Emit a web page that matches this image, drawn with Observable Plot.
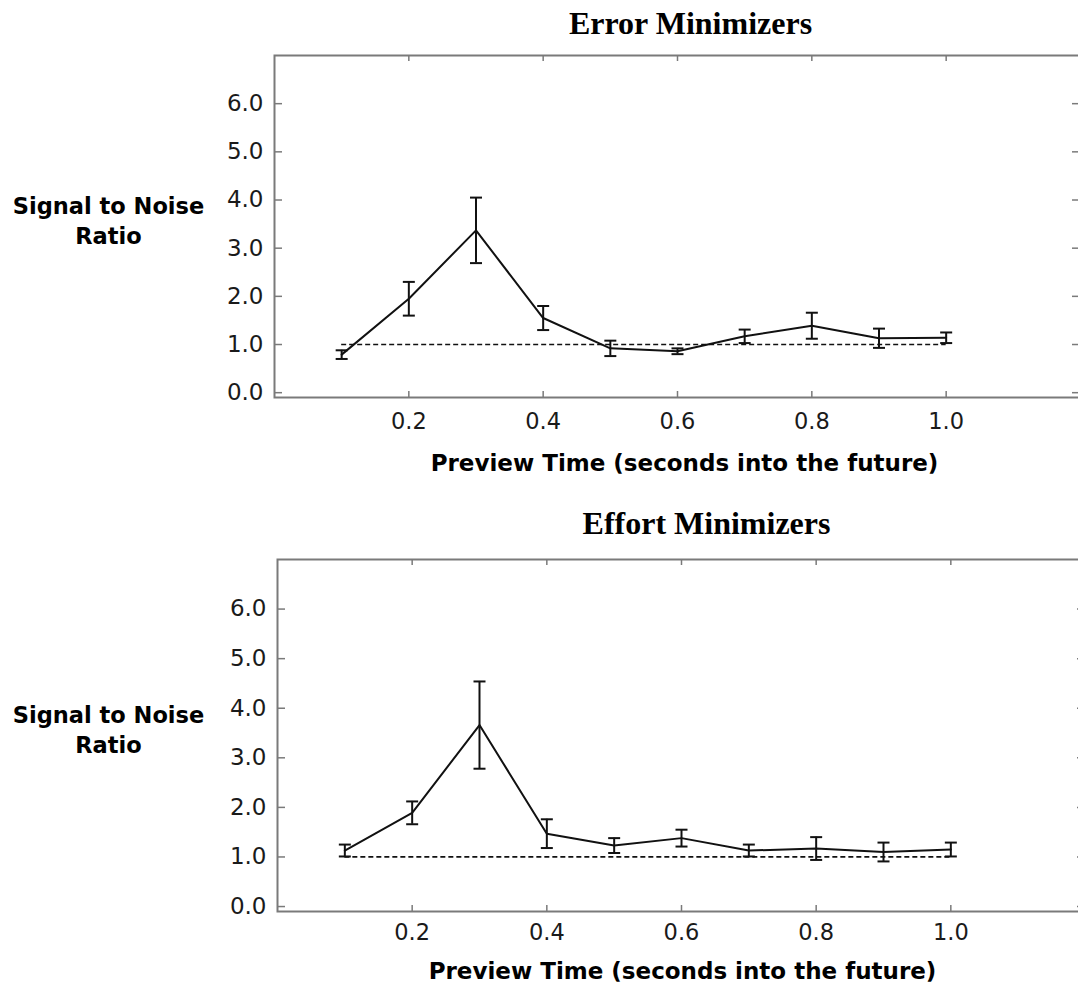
<!DOCTYPE html>
<html>
<head>
<meta charset="utf-8">
<script src="https://cdn.jsdelivr.net/npm/d3@7"></script>
<script src="https://cdn.jsdelivr.net/npm/@observablehq/plot@0.6"></script>
<style>
  html, body { margin: 0; padding: 0; background: #fff; overflow: hidden; }
  #chart { position: relative; width: 1078px; height: 986px; overflow: hidden; }
  #chart svg { position: absolute; left: 0; max-width: none !important; }
</style>
</head>
<body>
<div id="chart"></div>
<script>
// Preview horizon (seconds into the future)
const previewTimes = [0.1, 0.2, 0.3, 0.4, 0.5, 0.6, 0.7, 0.8, 0.9, 1.0];

// Error minimizers: mean signal-to-noise ratio and standard error
const errorSNR = [0.79, 1.95, 3.37, 1.55, 0.92, 0.86, 1.17, 1.39, 1.13, 1.14];
const errorSE  = [0.09, 0.35, 0.68, 0.25, 0.16, 0.06, 0.14, 0.27, 0.20, 0.11];

// Effort minimizers: mean signal-to-noise ratio and standard error
const effortSNR = [1.13, 1.89, 3.66, 1.47, 1.23, 1.38, 1.13, 1.17, 1.10, 1.15];
const effortSE  = [0.12, 0.23, 0.88, 0.29, 0.15, 0.17, 0.12, 0.23, 0.19, 0.14];

const xTicks = [0.2, 0.4, 0.6, 0.8, 1.0];
const yTicks = [0, 1, 2, 3, 4, 5, 6];
const chanceLevel = 1.0;

const panelTitles = ["Error Minimizers", "Effort Minimizers"];
const yLabel = "Signal to Noise\nRatio";
const xLabel = "Preview Time (seconds into the future)";

// horizontal cap for the error bars, drawn as a dot symbol
const capSymbol = {
  draw(context, size) {
    const w = Math.sqrt(size / Math.PI);
    context.moveTo(-w, 0);
    context.lineTo(w, 0);
  }
};

const axisGray = "#7a7a7a";

function panel(title, snr, se, L) {
  const rows = previewTimes.map((t, i) => ({t, snr: snr[i], lo: snr[i] - se[i], hi: snr[i] + se[i]}));
  const frameH = L.height - L.marginTop - L.marginBottom;
  const frameW = L.width - L.marginLeft - L.marginRight;
  const svg = Plot.plot({
    width: L.width,
    height: L.height,
    marginTop: L.marginTop,
    marginBottom: L.marginBottom,
    marginLeft: L.marginLeft,
    marginRight: L.marginRight,
    style: {fontFamily: "DejaVu Sans", color: "#1a1a1a", background: "transparent", overflow: "visible"},
    x: {domain: [0, 1.2], axis: null},
    y: {domain: [-0.1, 7.0], axis: null},
    marks: [
      Plot.frame({stroke: axisGray, strokeWidth: 2}),
      // inward ticks on all four sides
      Plot.tickX(xTicks, {x: d => d, insetTop: frameH - 6, stroke: axisGray, strokeWidth: 1.5}),
      Plot.tickX(xTicks, {x: d => d, insetBottom: frameH - 6, stroke: axisGray, strokeWidth: 1.5}),
      Plot.tickY(yTicks, {y: d => d, insetRight: frameW - 8, stroke: axisGray, strokeWidth: 1.5}),
      Plot.tickY(yTicks, {y: d => d, insetLeft: frameW - 8, stroke: axisGray, strokeWidth: 1.5}),
      Plot.axisX({ticks: xTicks, label: null, tickSize: 0, tickPadding: L.xTickPadding, tickFormat: ".1f", fontSize: 22.5, fill: "#1a1a1a"}),
      Plot.axisY({ticks: yTicks, label: null, tickSize: 0, tickPadding: 11, tickFormat: ".1f", fontSize: 23, fill: "#1a1a1a"}),
      // chance level
      Plot.ruleY([chanceLevel], {x1: d3.min(previewTimes), x2: d3.max(previewTimes), stroke: "#111", strokeWidth: 1.7, strokeDasharray: "5,3"}),
      // mean SNR with standard error bars
      Plot.ruleX(rows, {x: "t", y1: "lo", y2: "hi", stroke: "#111", strokeWidth: 2}),
      Plot.dot(rows, {x: "t", y: "lo", symbol: capSymbol, r: 6, stroke: "#111", strokeWidth: 2, fill: "none"}),
      Plot.dot(rows, {x: "t", y: "hi", symbol: capSymbol, r: 6, stroke: "#111", strokeWidth: 2, fill: "none"}),
      Plot.line(rows, {x: "t", y: "snr", stroke: "#111", strokeWidth: 2}),
      // titles and axis labels
      Plot.text([title], {frameAnchor: "top", lineAnchor: "bottom", dx: L.titleDx, dy: L.titleDy,
        fontFamily: "Liberation Serif", fontWeight: "bold", fontSize: 32, fill: "#000"}),
      Plot.text([yLabel], {frameAnchor: "left", textAnchor: "middle", lineAnchor: "bottom", lineHeight: 1.33,
        dx: L.yLabelDx, dy: L.yLabelDy, fontWeight: "bold", fontSize: 22.5, fill: "#000"}),
      Plot.text([xLabel], {frameAnchor: "bottom", lineAnchor: "bottom", dx: L.xLabelDx, dy: L.xLabelDy,
        fontWeight: "bold", fontSize: 23, fill: "#000"})
    ]
  });
  svg.style.maxWidth = "none";
  svg.style.top = L.top + "px";
  return svg;
}

const chart = document.getElementById("chart");
chart.appendChild(panel(panelTitles[0], errorSNR, errorSE, {
  top: 0, width: 1080, height: 490,
  marginTop: 55, marginBottom: 93, marginLeft: 274, marginRight: 0, xTickPadding: 16,
  titleDx: 13, titleDy: -22, yLabelDx: -166, yLabelDy: 17, xLabelDx: 7, xLabelDy: 73
}));
chart.appendChild(panel(panelTitles[1], effortSNR, effortSE, {
  top: 490, width: 1085, height: 496,
  marginTop: 69, marginBottom: 75, marginLeft: 277, marginRight: 0, xTickPadding: 13,
  titleDx: 25, titleDy: -26, yLabelDx: -169, yLabelDy: 17, xLabelDx: 1, xLabelDy: 67
}));
</script>
</body>
</html>
